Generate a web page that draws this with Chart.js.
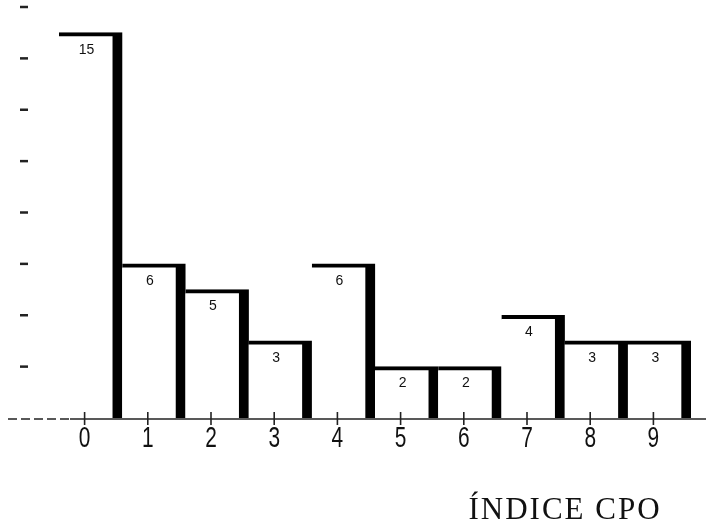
<!DOCTYPE html>
<html>
<head>
<meta charset="utf-8">
<script src="https://cdn.jsdelivr.net/npm/chart.js@4/dist/chart.umd.min.js"></script>
<style>
  body { margin: 0; background: #fff; }
  canvas { display: block; }
</style>
</head>
<body>
<canvas id="cpoChart" width="719" height="530"></canvas>
<script>
// data
const categories = ["0", "1", "2", "3", "4", "5", "6", "7", "8", "9"];
const counts = [15, 6, 5, 3, 6, 2, 2, 4, 3, 3];
const yTicks = [2, 4, 6, 8, 10, 12, 14, 16];
const axisTitle = "ÍNDICE CPO";

const shift = 6; // ticks sit a bit left of the bar centres in the original

const scanMarks = {
  id: "scanMarks",
  afterDatasetsDraw(chart) {
    const ctx = chart.ctx;
    const meta = chart.getDatasetMeta(0);
    ctx.save();
    ctx.fillStyle = "#111";
    ctx.font = "14px 'Liberation Sans', Arial, sans-serif";
    ctx.textAlign = "center";
    ctx.textBaseline = "middle";
    meta.data.forEach((bar, i) => {
      ctx.fillText(String(counts[i]), bar.x - 4, bar.y + 17);
    });
    ctx.restore();
  },
  afterDraw(chart) {
    const ctx = chart.ctx;
    const x = chart.scales.x;
    const y = chart.scales.y;
    const base = y.getPixelForValue(0) + 1;
    ctx.save();
    ctx.strokeStyle = "#222";
    ctx.lineWidth = 1.5;

    // baseline, broken at the far left like the scan
    ctx.beginPath();
    ctx.setLineDash([9, 4]);
    ctx.moveTo(8, base);
    ctx.lineTo(70, base);
    ctx.stroke();
    ctx.setLineDash([]);
    ctx.beginPath();
    ctx.moveTo(70, base);
    ctx.lineTo(706, base);
    ctx.stroke();

    // tick crosses and condensed labels on the x axis
    ctx.fillStyle = "#111";
    ctx.font = "29px 'Liberation Sans', Arial, sans-serif";
    ctx.textAlign = "center";
    ctx.textBaseline = "alphabetic";
    x.ticks.forEach((t, i) => {
      const px = x.getPixelForTick(i) - shift;
      ctx.lineWidth = 1.6;
      ctx.beginPath();
      ctx.moveTo(px, base - 7);
      ctx.lineTo(px, base + 6);
      ctx.stroke();
      ctx.save();
      ctx.translate(px, 447);
      ctx.scale(0.72, 1);
      ctx.fillText(x.getLabelForValue(t.value), 0, 0);
      ctx.restore();
    });

    // little dashes standing in for the y axis
    ctx.lineWidth = 2.5;
    yTicks.forEach((v) => {
      const py = y.getPixelForValue(v);
      ctx.beginPath();
      ctx.moveTo(20, py);
      ctx.lineTo(28, py);
      ctx.stroke();
    });

    // axis title
    ctx.font = "31px 'Liberation Serif', 'Times New Roman', serif";
    ctx.letterSpacing = "2px";
    ctx.fillText(axisTitle, 565, 519);
    ctx.restore();
  }
};

new Chart(document.getElementById("cpoChart"), {
  type: "bar",
  data: {
    labels: categories,
    datasets: [
      {
        data: counts,
        backgroundColor: "#ffffff",
        borderColor: "#000000",
        borderWidth: { top: 4, right: 10, bottom: 0, left: 0 },
        borderSkipped: false,
        barPercentage: 1,
        categoryPercentage: 1,
      },
    ],
  },
  options: {
    responsive: false,
    animation: false,
    layout: { padding: { left: 59, right: 28, top: 7, bottom: 112 } },
    plugins: {
      legend: { display: false },
      tooltip: { enabled: false },
    },
    scales: {
      x: {
        grid: { display: false, drawTicks: false },
        border: { display: false },
        ticks: { display: false },
      },
      y: {
        display: false,
        min: 0,
        max: 16,
        ticks: { stepSize: 2 },
      },
    },
  },
  plugins: [scanMarks],
});
</script>
</body>
</html>
